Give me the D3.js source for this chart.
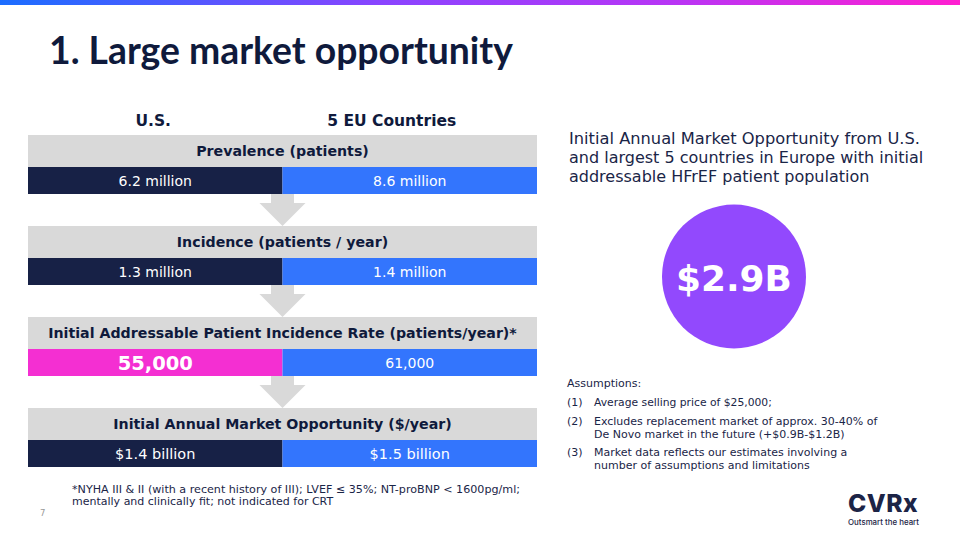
<!DOCTYPE html>
<html><head><meta charset="utf-8">
<script src="https://cdn.jsdelivr.net/npm/d3@7"></script>
<style>
html,body{margin:0;padding:0;background:#fff;}
svg{display:block;}
</style></head>
<body>
<svg id="chart" width="960" height="540"></svg>
<script>
// ---- data ----
const regions = ["U.S.", "5 EU Countries"];
const stages = [
  "Prevalence (patients)",
  "Incidence (patients / year)",
  "Initial Addressable Patient Incidence Rate (patients/year)*",
  "Initial Annual Market Opportunity ($/year)"
];
const usValues = ["6.2 million", "1.3 million", "55,000", "$1.4 billion"];
const euValues = ["8.6 million", "1.4 million", "61,000", "$1.5 billion"];
const totalLabel = "$2.9B";
const sideText = ["Initial Annual Market Opportunity from U.S.", "and largest 5 countries in Europe with initial", "addressable HFrEF patient population"];
const assumptionsTitle = "Assumptions:";
const assumptions = [
  ["(1)", ["Average selling price of $25,000;"]],
  ["(2)", ["Excludes replacement market of approx. 30-40% of", "De Novo market in the future (+$0.9B-$1.2B)"]],
  ["(3)", ["Market data reflects our estimates involving a", "number of assumptions and limitations"]]
];
const footnote = ["*NYHA III & II (with a recent history of III); LVEF \u2264 35%; NT-proBNP < 1600pg/ml;", "mentally and clinically fit; not indicated for CRT"];

// ---- styles ----
const NAVY = "#172146", BLUE = "#3375fd", PINK = "#f42fd2", GRAY = "#d9d9d9", TXT = "#1a2547", PURPLE = "#9249fd";
const BODY = "'DejaVu Sans', Verdana, sans-serif";

const svg = d3.select("#chart");

function fit(sel, w) {
  const n = sel.node();
  const fs = parseFloat(sel.attr("font-size"));
  const len = n.getComputedTextLength();
  if (len > 0) sel.attr("font-size", (fs * w / len).toFixed(2));
  return sel;
}

// top gradient bar
const defs = svg.append("defs");
const grad = defs.append("linearGradient").attr("id", "topgrad").attr("x1", "0%").attr("x2", "100%");
grad.append("stop").attr("offset", "0%").attr("stop-color", "#1b6dff");
grad.append("stop").attr("offset", "40%").attr("stop-color", "#8a44ff");
grad.append("stop").attr("offset", "70%").attr("stop-color", "#b835f5");
grad.append("stop").attr("offset", "100%").attr("stop-color", "#ff1fd0");
svg.append("rect").attr("x", 0).attr("y", 0).attr("width", 960).attr("height", 5).attr("fill", "url(#topgrad)");

// title
fit(svg.append("text").attr("x", 49).attr("y", 63.5)
  .attr("font-family", "Lato, 'Open Sans', sans-serif").attr("font-weight", 700)
  .attr("font-size", 36).attr("fill", "#0f1a3c").text("1. Large market opportunity"), 464);

// scales
const x = d3.scaleBand().domain(regions).range([28, 537]).padding(0);
const y = d3.scaleBand().domain(stages).range([135, 467]).paddingInner(32 / 91).paddingOuter(0);
const headH = 32;
const valH = y.bandwidth() - headH;
const midX = x("5 EU Countries");

// column headers
const hdrOffsets = [-2, -18];
regions.forEach((r, i) => {
  svg.append("text").attr("x", x(r) + x.bandwidth() / 2 + hdrOffsets[i]).attr("y", 126)
    .attr("text-anchor", "middle").attr("font-family", BODY).attr("font-weight", "bold")
    .attr("font-size", 15.5).attr("fill", "#0f1a3c").text(r);
});

// arrows between stages
stages.slice(1).forEach(s => {
  const top = y(s) - (y.step() - y.bandwidth());
  const bot = y(s);
  const cx = midX;
  const p = [[cx - 11.5, top], [cx + 11.5, top], [cx + 11.5, top + 9], [cx + 23, top + 9], [cx, bot], [cx - 23, top + 9], [cx - 11.5, top + 9]];
  svg.append("path").attr("d", d3.line()(p) + "Z").attr("fill", GRAY);
});

// rows
stages.forEach((s, i) => {
  svg.append("rect").attr("x", x.range()[0]).attr("y", y(s)).attr("width", x.range()[1] - x.range()[0]).attr("height", headH).attr("fill", GRAY);
  svg.append("text").attr("x", (x.range()[0] + x.range()[1]) / 2).attr("y", y(s) + headH / 2 + 5)
    .attr("text-anchor", "middle").attr("font-family", BODY).attr("font-weight", "bold")
    .attr("font-size", 14.2).attr("fill", "#0f1a3c").text(s);
  const vals = [usValues[i], euValues[i]];
  regions.forEach((r, j) => {
    const highlight = (i === 2 && j === 0);
    const fill = j === 0 ? (highlight ? PINK : NAVY) : BLUE;
    svg.append("rect").attr("x", x(r)).attr("y", y(s) + headH).attr("width", x.bandwidth()).attr("height", valH).attr("fill", fill);
    svg.append("text").attr("x", x(r) + x.bandwidth() / 2).attr("y", y(s) + headH + valH / 2 + (highlight ? 7 : 5))
      .attr("text-anchor", "middle").attr("font-family", BODY)
      .attr("font-weight", highlight ? "bold" : "normal")
      .attr("font-size", highlight ? 19.5 : (i === 3 ? 14.5 : 14)).attr("fill", "#fff").text(vals[j]);
  });
});

// side text
sideText.forEach((t, i) => {
  const tx = svg.append("text").attr("x", 569).attr("y", 144 + i * 19).attr("font-family", BODY)
    .attr("font-size", 16).attr("fill", TXT).text(t);
  if (i === 0) fit(tx, 351);
});

// circle
svg.append("circle").attr("cx", 734).attr("cy", 276.5).attr("r", 72).attr("fill", PURPLE);
fit(svg.append("text").attr("x", 734).attr("y", 290.5).attr("text-anchor", "middle").attr("font-family", BODY)
  .attr("font-weight", "bold").attr("font-size", 38).attr("fill", "#fff").text(totalLabel), 116);

// assumptions
svg.append("text").attr("x", 567).attr("y", 386.5).attr("font-family", BODY).attr("font-size", 11).attr("fill", TXT).text(assumptionsTitle);
const aY = [[405.5], [424.5, 437.8], [455.5, 468.8]];
assumptions.forEach((a, i) => {
  svg.append("text").attr("x", 567).attr("y", aY[i][0]).attr("font-family", BODY).attr("font-size", 11).attr("fill", TXT).text(a[0]);
  a[1].forEach((line, k) => {
    const t = svg.append("text").attr("x", 594).attr("y", aY[i][k]).attr("font-family", BODY).attr("font-size", 11).attr("fill", TXT).text(line);
    if (i === 0) fit(t, 178);
  });
});

// footnote
footnote.forEach((t, i) => {
  const tx = svg.append("text").attr("x", 72).attr("y", 492.5 + i * 12.7).attr("font-family", BODY)
    .attr("font-size", 11).attr("fill", TXT).text(t);
  if (i === 0) fit(tx, 448);
});
svg.append("text").attr("x", 40).attr("y", 516).attr("font-family", BODY).attr("font-size", 8.5).attr("fill", "#999").text("7");

// logo
fit(svg.append("text").attr("x", 848).attr("y", 512).attr("font-family", "Inter, 'DejaVu Sans', sans-serif").attr("font-weight", 800)
  .attr("font-size", 17).attr("fill", "#1c2446").attr("letter-spacing", 0.5).text("CVRx"), 71);
fit(svg.append("text").attr("x", 848).attr("y", 525).attr("font-family", "Inter, 'DejaVu Sans', sans-serif").attr("font-weight", 500)
  .attr("font-size", 7.5).attr("fill", "#1c2446").text("Outsmart the heart"), 71);
</script>
</body></html>
